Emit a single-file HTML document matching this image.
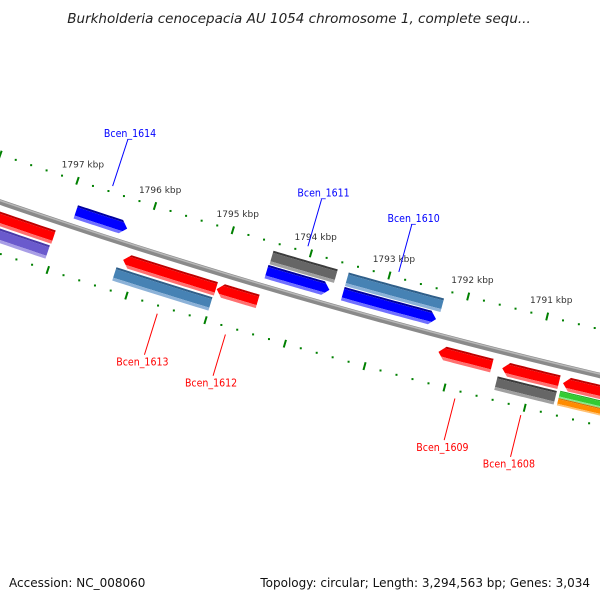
<!DOCTYPE html>
<html><head><meta charset="utf-8"><style>
html,body{margin:0;padding:0;background:#fff;}
svg{display:block;}
</style></head><body>
<svg id="map" width="600" height="600" viewBox="0 0 600 600" xmlns="http://www.w3.org/2000/svg">
<rect width="600" height="600" fill="#fff"/>
<text x="299" y="23" text-anchor="middle" font-family="DejaVu Sans, sans-serif" font-style="italic" font-size="13.5" fill="#222">Burkholderia cenocepacia AU 1054 chromosome 1, complete sequ...</text>
<g id="plot"></g>
<text x="9" y="587" font-family="DejaVu Sans, sans-serif" font-size="12" fill="#111">Accession: NC_008060</text>
<text x="590" y="587" text-anchor="end" font-family="DejaVu Sans, sans-serif" font-size="12" fill="#111">Topology: circular; Length: 3,294,563 bp; Genes: 3,034</text>
</svg>
<script>
// ---- data (kbp positions) ----
const geneStarts = [1798.6, 1798.6, 1796.90, 1796.17, 1796.22, 1794.98, 1794.45, 1794.46, 1793.49, 1793.49, 1792.18, 1791.38, 1791.41, 1790.62, 1790.63, 1790.63];
const geneEnds   = [1797.06, 1797.07, 1796.24, 1794.99, 1795.00, 1794.46, 1793.63, 1793.66, 1792.28, 1792.31, 1791.51, 1790.67, 1790.67, 1789.5, 1789.5, 1789.5];
const geneTracks = ['r1','r2','f1','r1','r2','r1','f2','f1','f2','f1','r1','r1','r2','r1','g','o'];
const geneArrows = ['none','none','right','left','none','left','none','right','none','right','left','left','none','left','none','none'];
const geneColors = ['red','purple','blue','red','steel','red','gray','blue','steel','blue','red','red','gray','red','green','orange'];
const geneNames  = ['','','Bcen_1614','Bcen_1613','','Bcen_1612','','Bcen_1611','','Bcen_1610','Bcen_1609','Bcen_1608','','','',''];
const tickLabels = [1797, 1796, 1795, 1794, 1793, 1792, 1791];
const tickStart = 1789.4, tickEnd = 1798.6, minorStep = 0.2;

// ---- geometry ----
const CX = 1999, CY = -5588, R0 = 6080.4;
const TH0 = Math.atan2(5794, -1844);
const DTH = 81.5 / 6080;
function P(k, d) {
  const t = TH0 + (k - 1796) * DTH, r = R0 + d;
  return [CX + r * Math.cos(t), CY + r * Math.sin(t)];
}
const trackOff = {f2:[8,22], f1:[23,37], r1:[54,68], r2:[70,84], g:[69,76.5], o:[76.5,84]};
const palette = {
  red:['#c00000','#ff0000','#ff7070'], blue:['#0000a0','#0000ff','#7070ff'],
  gray:['#3c3c3c','#666666','#a0a0a0'], steel:['#2f5f8a','#4682b4','#8cb2d8'],
  purple:['#4a3aa8','#6a5acd','#a89ee6'], green:['#22aa22','#33cc33','#88e888'],
  orange:['#d07000','#ff8c00','#ffc070']
};
const NS = 'http://www.w3.org/2000/svg';
const plot = document.getElementById('plot');
function mk(tag, attrs) { const e = document.createElementNS(NS, tag); for (const a in attrs) e.setAttribute(a, attrs[a]); return e; }
function arcPts(k1, k2, d) { const pts = []; const n = 24; for (let i = 0; i <= n; i++) pts.push(P(k1 + (k2 - k1) * i / n, d)); return pts; }
function ptsStr(p) { return p.map(q => q[0].toFixed(2) + ',' + q[1].toFixed(2)).join(' '); }

// backbone
const bb1 = mk('polyline', {points: ptsStr(arcPts(1799, 1789, 45)), fill:'none', stroke:'#8a8a8a', 'stroke-width':5.5});


plot.appendChild(bb1);
const bb2 = mk('polyline', {points: ptsStr(arcPts(1799, 1789, 43.6)), fill:'none', stroke:'#b8b8b8', 'stroke-width':1.5});


plot.appendChild(bb2);

// ticks on both rings
[0, 94].forEach((ring) => {
  const n = Math.round((tickEnd - tickStart) / minorStep);
  for (let i = 0; i <= n; i++) {
    const k = tickStart + i * minorStep;
    const major = Math.abs(k - Math.round(k)) < 0.01;
    let el;
    if (major) {
      const a = P(k, ring - 4), b = P(k, ring + 4);
      el = mk('line', {x1:a[0], y1:a[1], x2:b[0], y2:b[1], stroke:'#008000', 'stroke-width':2});
      
    } else {
      const c = P(k, ring);
      el = mk('rect', {x:c[0]-1, y:c[1]-1, width:2, height:2, fill:'#008000'});
      
    }
    
    plot.appendChild(el);
  }
});
tickLabels.forEach(k => {
  const c = P(k, -17);
  const t = mk('text', {x:c[0], y:c[1]+3, 'text-anchor':'middle', 'font-family':'DejaVu Sans, sans-serif', 'font-size':9, fill:'#333'});
  t.textContent = k + ' kbp';
  
  
  plot.appendChild(t);
});

// genes
const defs = mk('defs', {});
plot.appendChild(defs);
geneStarts.forEach((ks, i) => {
  const ke = geneEnds[i];
  const [d1, d2] = trackOff[geneTracks[i]];
  const dm = (d1 + d2) / 2, al = 0.08;
  let pts = [];
  if (geneArrows[i] === 'right') {
    pts = arcPts(ks, ke + al, d1).concat([P(ke, dm)], arcPts(ke + al, ks, d2));
  } else if (geneArrows[i] === 'left') {
    pts = [P(ks, dm)].concat(arcPts(ks - al, ke, d1), arcPts(ke, ks - al, d2));
  } else {
    pts = arcPts(ks, ke, d1).concat(arcPts(ke, ks, d2));
  }
  const cp = mk('clipPath', {id:'cp' + i});
  cp.appendChild(mk('polygon', {points: ptsStr(pts)}));
  defs.appendChild(cp);
  const g = mk('g', {'clip-path':'url(#cp' + i + ')'});
  
  
  const cols = palette[geneColors[i]];
  const h = d2 - d1;
  const bands = [[d1 - 1, d1 + h * 0.15, cols[0]], [d1 + h * 0.15, d2 - h * 0.22, cols[1]], [d2 - h * 0.22, d2 + 1, cols[2]]];
  bands.forEach(b => {
    const bp = arcPts(ks + 0.1, ke - 0.1, b[0]).concat(arcPts(ke - 0.1, ks + 0.1, b[1]));
    g.appendChild(mk('polygon', {points: ptsStr(bp), fill: b[2]}));
  });
  plot.appendChild(g);

  if (geneNames[i]) {
    const km = (ks + ke) / 2;
    const fwd = geneTracks[i][0] === 'f';
    const col = fwd ? '#0000ff' : '#ff0000';
    const a = fwd ? P(km, -6) : P(km, 102), b = fwd ? P(km, -55) : P(km, 145);
    const ln = mk('line', {x1:a[0], y1:a[1], x2:b[0], y2:b[1], stroke:col, 'stroke-width':1});
    
    
    plot.appendChild(ln);
    const c = fwd ? P(km, -62) : P(km, 152);
    const t = mk('text', {x:c[0], y:c[1] + 4, 'text-anchor':'middle', 'font-family':'DejaVu Sans Condensed, DejaVu Sans, sans-serif', 'font-size':10.5, fill:col});
    t.textContent = geneNames[i];
    
    
    plot.appendChild(t);
  }
});
</script>
</body></html>
